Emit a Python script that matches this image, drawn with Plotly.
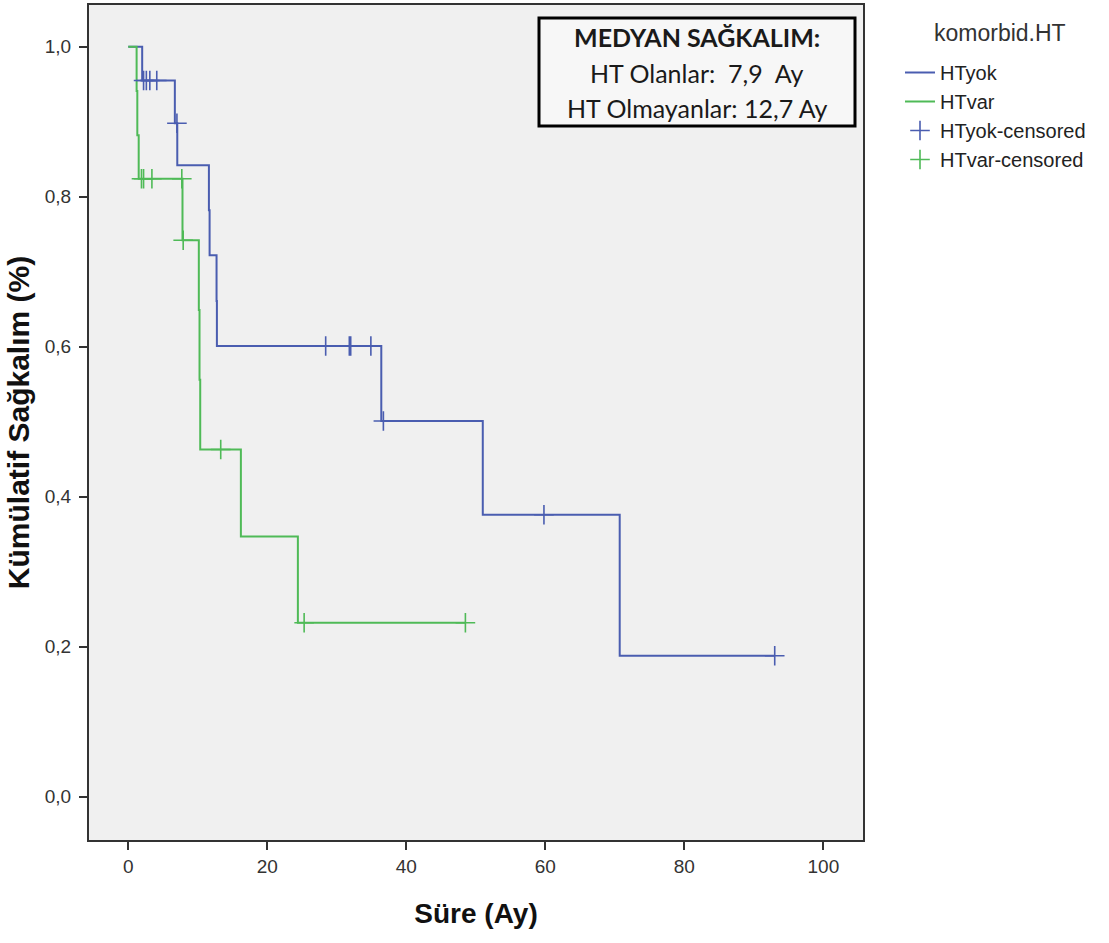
import plotly.graph_objects as go

# ---------------- data ----------------
yok_time = [0, 2.0, 6.7, 7.05, 11.6, 11.7, 12.7, 12.75, 36.4, 51.0, 70.7, 93.0]
yok_surv = [1.0, 0.955, 0.898, 0.842, 0.782, 0.722, 0.661, 0.601, 0.501, 0.376, 0.188, 0.188]
yok_cens_time = [2.2, 2.6, 3.1, 4.1, 7.0, 28.4, 31.8, 32.0, 34.9, 36.7, 59.8, 93.0]
yok_cens_surv = [0.955, 0.955, 0.955, 0.955, 0.898, 0.601, 0.601, 0.601, 0.601, 0.501, 0.376, 0.188]

var_time = [0, 1.2, 1.3, 1.5, 7.8, 10.15, 10.25, 10.35, 16.2, 24.4, 48.5]
var_surv = [1.0, 0.941, 0.882, 0.824, 0.742, 0.649, 0.556, 0.463, 0.347, 0.232, 0.232]
var_cens_time = [1.9, 2.2, 3.4, 7.7, 7.9, 13.3, 25.3, 48.5]
var_cens_surv = [0.824, 0.824, 0.824, 0.824, 0.742, 0.463, 0.232, 0.232]

x_ticks = [0, 20, 40, 60, 80, 100]
y_ticks = [0.0, 0.2, 0.4, 0.6, 0.8, 1.0]
y_tick_text = ["0,0", "0,2", "0,4", "0,6", "0,8", "1,0"]

box_lines = ["<b>MEDYAN SAĞKALIM:</b>", "HT Olanlar:  7,9  Ay", "HT Olmayanlar: 12,7 Ay"]
legend_title = "komorbid.HT"

BLUE = "#4a5db0"
GREEN = "#4fba57"

W, H = 1109, 943
L, R, T, B = 89, 863, 5, 840


def px(xp):
    return (xp - L) / (R - L)


def py(yp):
    return (B - yp) / (B - T)


fig = go.Figure()
fig.add_trace(go.Scatter(x=yok_time, y=yok_surv, mode="lines", line=dict(color=BLUE, width=2, shape="hv"),
                         name="HTyok", legendgroup="a"))
fig.add_trace(go.Scatter(x=var_time, y=var_surv, mode="lines", line=dict(color=GREEN, width=2, shape="hv"),
                         name="HTvar", legendgroup="b"))
fig.add_trace(go.Scatter(x=yok_cens_time, y=yok_cens_surv, mode="markers",
                         marker=dict(symbol="cross-thin", size=14, line=dict(color=BLUE, width=1.6)),
                         name="HTyok-censored", legendgroup="c"))
fig.add_trace(go.Scatter(x=var_cens_time, y=var_cens_surv, mode="markers",
                         marker=dict(symbol="cross-thin", size=14, line=dict(color=GREEN, width=1.6)),
                         name="HTvar-censored", legendgroup="d"))

# annotation box
fig.add_shape(type="rect", xref="paper", yref="paper",
              x0=px(539), x1=px(855), y0=py(126), y1=py(18),
              line=dict(color="black", width=3), fillcolor="#f7f7f7", layer="above")
for txt, yp in zip(box_lines, [37, 73, 108]):
    fig.add_annotation(text=txt, xref="paper", yref="paper", x=px(697), y=py(yp),
                       xanchor="center", yanchor="middle", showarrow=False,
                       font=dict(family="Lato", size=25, color="#1a1a1a"))

# legend title
fig.add_annotation(text=legend_title, xref="paper", yref="paper", x=px(1000), y=py(33),
                   xanchor="center", yanchor="middle", showarrow=False,
                   font=dict(size=23, color="#333333"))

fig.update_layout(
    width=W, height=H,
    margin=dict(l=L, r=W - R, t=T, b=H - B, autoexpand=False),
    paper_bgcolor="white", plot_bgcolor="#f0f0f0",
    font=dict(family="Liberation Sans, Arial", color="#333333"),
    showlegend=True,
    legend=dict(
        x=px(900), y=py(53), xanchor="left", yanchor="top",
        font=dict(size=20, color="#222222"),
        tracegroupgap=0, bgcolor="rgba(0,0,0,0)",
    ),
)
fig.update_xaxes(range=[-5.65, 105.7], tickvals=x_ticks, ticks="outside", ticklen=8, tickwidth=2,
                 tickcolor="#333333", showline=True, linecolor="#333333", linewidth=2, mirror=True,
                 showgrid=False, zeroline=False, tickfont=dict(size=19, color="#333333"), automargin=False,
                 title=dict(text="<b>Süre (Ay)</b>", font=dict(size=28, color="#111111"), standoff=28))
fig.update_yaxes(range=[-0.0577, 1.0556], tickvals=y_ticks, ticktext=y_tick_text, ticks="outside", ticklen=8,
                 tickwidth=2, tickcolor="#333333", showline=True, linecolor="#333333", linewidth=2, mirror=True,
                 showgrid=False, zeroline=False, tickfont=dict(size=19, color="#333333"), automargin=False,
                 ticklabelstandoff=4,
                 title=dict(text="<b>Kümülatif Sağkalım (%)</b>", font=dict(size=30, color="#111111"), standoff=6))

fig.write_html("out.html", config={"displayModeBar": False},
               post_script="document.body.style.margin='0px';")
